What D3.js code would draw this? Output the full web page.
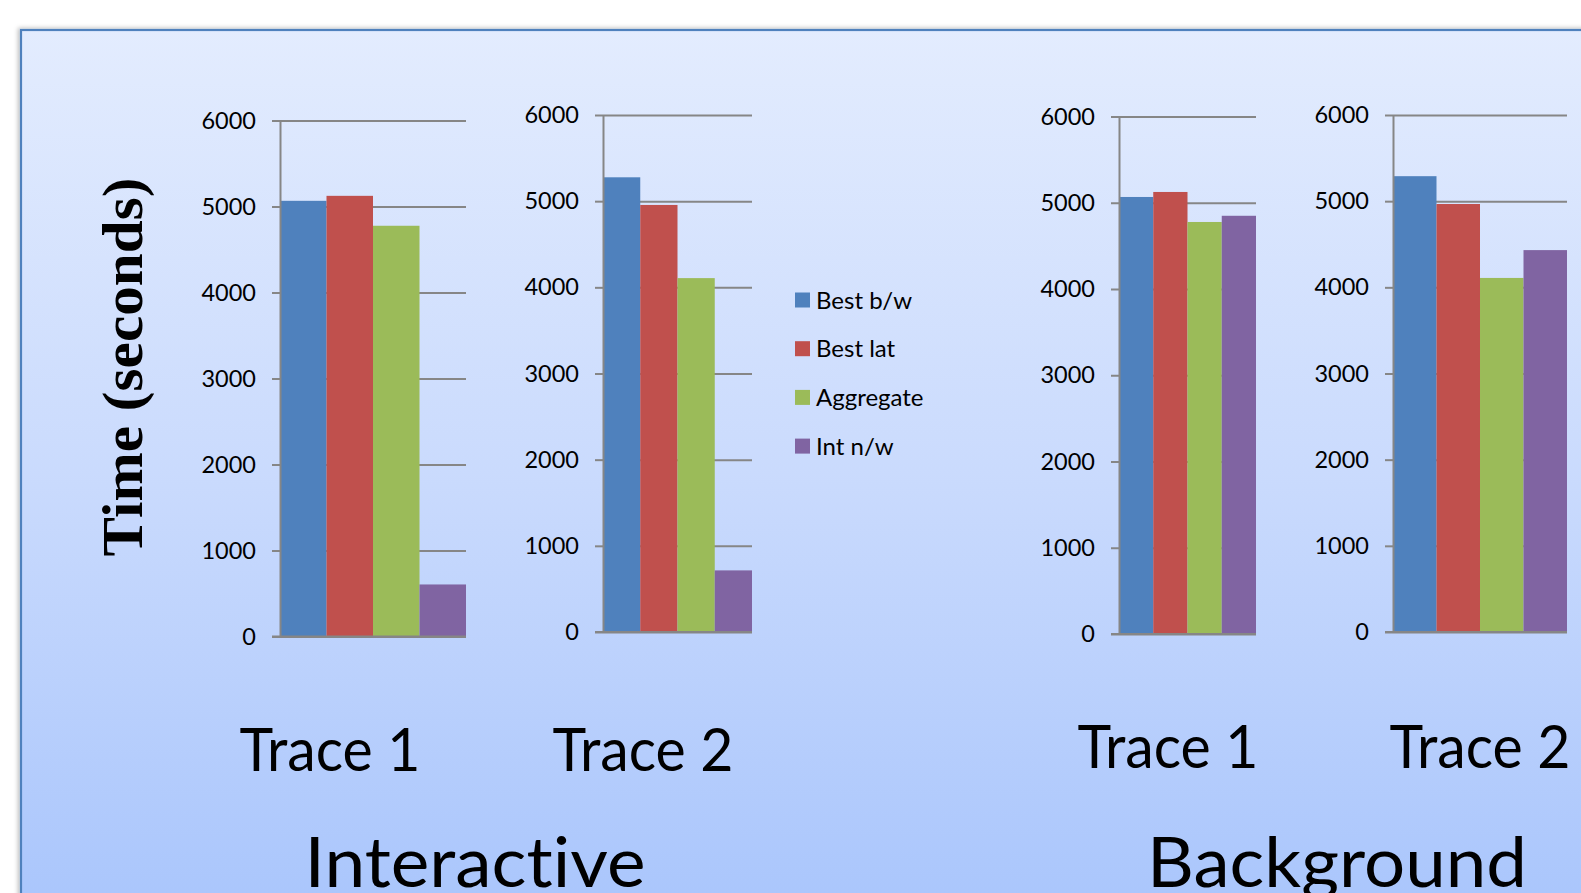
<!DOCTYPE html>
<html>
<head>
<meta charset="utf-8">
<script src="https://cdn.jsdelivr.net/npm/d3@7"></script>
<style>
  html, body { margin: 0; padding: 0; background: #fff; }
  svg { display: block; }
  text { font-variant-ligatures: none; font-feature-settings: "liga" 0, "clig" 0; }
</style>
</head>
<body>
<div id="vis"></div>
<script>
// data
const series = ['Best b/w', 'Best lat', 'Aggregate', 'Int n/w'];
const yTicks = [0, 1000, 2000, 3000, 4000, 5000, 6000];

const interactiveTrace1 = [5066, 5124, 4776, 605];
const interactiveTrace2 = [5277, 4956, 4107, 715];
const backgroundTrace1 = [5067, 5125, 4777, 4849];
const backgroundTrace2 = [5290, 4967, 4109, 4432];

const traceLabels = ['Trace 1', 'Trace 2', 'Trace 1', 'Trace 2'];
const groupLabels = ['Interactive', 'Background'];

const colors = ['#4f81bd', '#c0504d', '#9bbb59', '#8064a2'];

let width = 1581;
let height = 893;

let svg = d3.select('#vis')
  .append('svg')
    .attr('width', width)
    .attr('height', height);

// slide background with gradient + blue border
let defs = svg.append('defs');
let grad = defs.append('linearGradient')
  .attr('id', 'bg')
  .attr('x1', 0).attr('y1', 0).attr('x2', 0).attr('y2', 1);
grad.append('stop').attr('offset', '0%').attr('stop-color', '#e3ecfe');
grad.append('stop').attr('offset', '50%').attr('stop-color', '#c9dafd');
grad.append('stop').attr('offset', '100%').attr('stop-color', '#a7c4fc');

let shadow = defs.append('filter').attr('id', 'shadow')
  .attr('x', '-5%').attr('y', '-5%').attr('width', '110%').attr('height', '110%');
shadow.append('feDropShadow')
  .attr('dx', -2).attr('dy', -1).attr('stdDeviation', 2)
  .attr('flood-color', '#000').attr('flood-opacity', 0.25);

svg.append('rect')
  .attr('x', 21)
  .attr('y', 30)
  .attr('width', width + 20)
  .attr('height', height + 20)
  .attr('fill', 'url(#bg)')
  .attr('stroke', '#4f81bd')
  .attr('stroke-width', 2.2)
  .attr('filter', 'url(#shadow)');

// one panel per trace, placed as on the slide
let panels = [
  { values: interactiveTrace1, left: 280, right: 466, top: 120.5, bottom: 636.5, label: traceLabels[0], lx: 330, ly: 771 },
  { values: interactiveTrace2, left: 603, right: 752, top: 115, bottom: 632, label: traceLabels[1], lx: 643, ly: 771 },
  { values: backgroundTrace1, left: 1119, right: 1256, top: 116.5, bottom: 634, label: traceLabels[2], lx: 1168, ly: 768 },
  { values: backgroundTrace2, left: 1393, right: 1567, top: 115, bottom: 632, label: traceLabels[3], lx: 1480, ly: 768 }
];

const grey = '#868686';

panels.forEach(function(p) {
  let g = svg.append('g');

  let xScale = d3.scaleBand()
    .domain(series)
    .range([p.left, p.right])
    .padding(0);

  let yScale = d3.scaleLinear()
    .domain([0, 6000])
    .range([p.bottom, p.top]);

  // gridlines (behind the bars)
  let grid = g.append('g')
    .attr('transform', `translate(${p.left},0)`)
    .call(d3.axisLeft(yScale).tickValues(yTicks).tickSize(-(p.right - p.left)).tickFormat(''));
  grid.select('.domain').remove();
  grid.selectAll('line').attr('stroke', grey).attr('stroke-width', 2);

  // bars
  g.append('g')
    .selectAll('rect')
    .data(p.values)
    .enter()
    .append('rect')
      .attr('x', function(d, i) { return xScale(series[i]); })
      .attr('y', function(d) { return yScale(d); })
      .attr('width', xScale.bandwidth())
      .attr('height', function(d) { return p.bottom - yScale(d); })
      .attr('fill', function(d, i) { return colors[i]; });

  // y axis with short ticks and labels
  let ax = g.append('g')
    .attr('transform', `translate(${p.left},0)`)
    .call(d3.axisLeft(yScale).tickValues(yTicks).tickSize(8).tickSizeOuter(0).tickPadding(16).tickFormat(d3.format('d')));
  ax.select('.domain').attr('stroke', grey).attr('stroke-width', 2);
  ax.selectAll('line').attr('stroke', grey).attr('stroke-width', 2);
  ax.selectAll('text')
    .attr('fill', '#000')
    .style('font-family', 'Lato, "Open Sans", sans-serif')
    .style('font-size', '23.5px');

  // baseline at 0
  g.append('line')
    .attr('x1', p.left - 8).attr('x2', p.right)
    .attr('y1', yScale(0)).attr('y2', yScale(0))
    .attr('stroke', grey).attr('stroke-width', 2);

  // trace label
  svg.append('text')
    .attr('x', p.lx)
    .attr('y', p.ly)
    .attr('text-anchor', 'middle')
    .attr('textLength', 181)
    .attr('lengthAdjust', 'spacingAndGlyphs')
    .style('font-family', 'Lato, "Open Sans", sans-serif')
    .style('font-size', '60px')
    .text(p.label);
});

// group labels (cut by the slide's bottom edge, as in the original)
svg.append('text')
  .attr('x', 475)
  .attr('y', 887)
  .attr('text-anchor', 'middle')
  .attr('textLength', 341)
  .attr('lengthAdjust', 'spacingAndGlyphs')
  .style('font-family', 'Lato, "Open Sans", sans-serif')
  .style('font-size', '70px')
  .text(groupLabels[0]);

svg.append('text')
  .attr('x', 1337)
  .attr('y', 887)
  .attr('text-anchor', 'middle')
  .attr('textLength', 380)
  .attr('lengthAdjust', 'spacingAndGlyphs')
  .style('font-family', 'Lato, "Open Sans", sans-serif')
  .style('font-size', '70px')
  .text(groupLabels[1]);

// y axis title
svg.append('text')
  .attr('transform', 'translate(142,367) rotate(-90)')
  .attr('text-anchor', 'middle')
  .attr('textLength', 379)
  .attr('lengthAdjust', 'spacingAndGlyphs')
  .style('font-family', '"Liberation Serif", "DejaVu Serif", serif')
  .style('font-weight', 'bold')
  .style('font-size', '56px')
  .text('Time (seconds)');

// legend
let legend = svg.append('g')
  .selectAll('g')
  .data(series)
  .enter()
  .append('g')
    .attr('transform', function(d, i) { return `translate(795,${300 + i * 48.7})`; });

legend.append('rect')
  .attr('x', 0)
  .attr('y', -7.5)
  .attr('width', 15)
  .attr('height', 15)
  .attr('fill', function(d, i) { return colors[i]; });

legend.append('text')
  .attr('x', 21)
  .attr('y', 0)
  .attr('dy', '0.36em')
  .style('font-family', 'Lato, "Open Sans", sans-serif')
  .style('font-size', '24px')
  .text(function(d) { return d; });
</script>
</body>
</html>
